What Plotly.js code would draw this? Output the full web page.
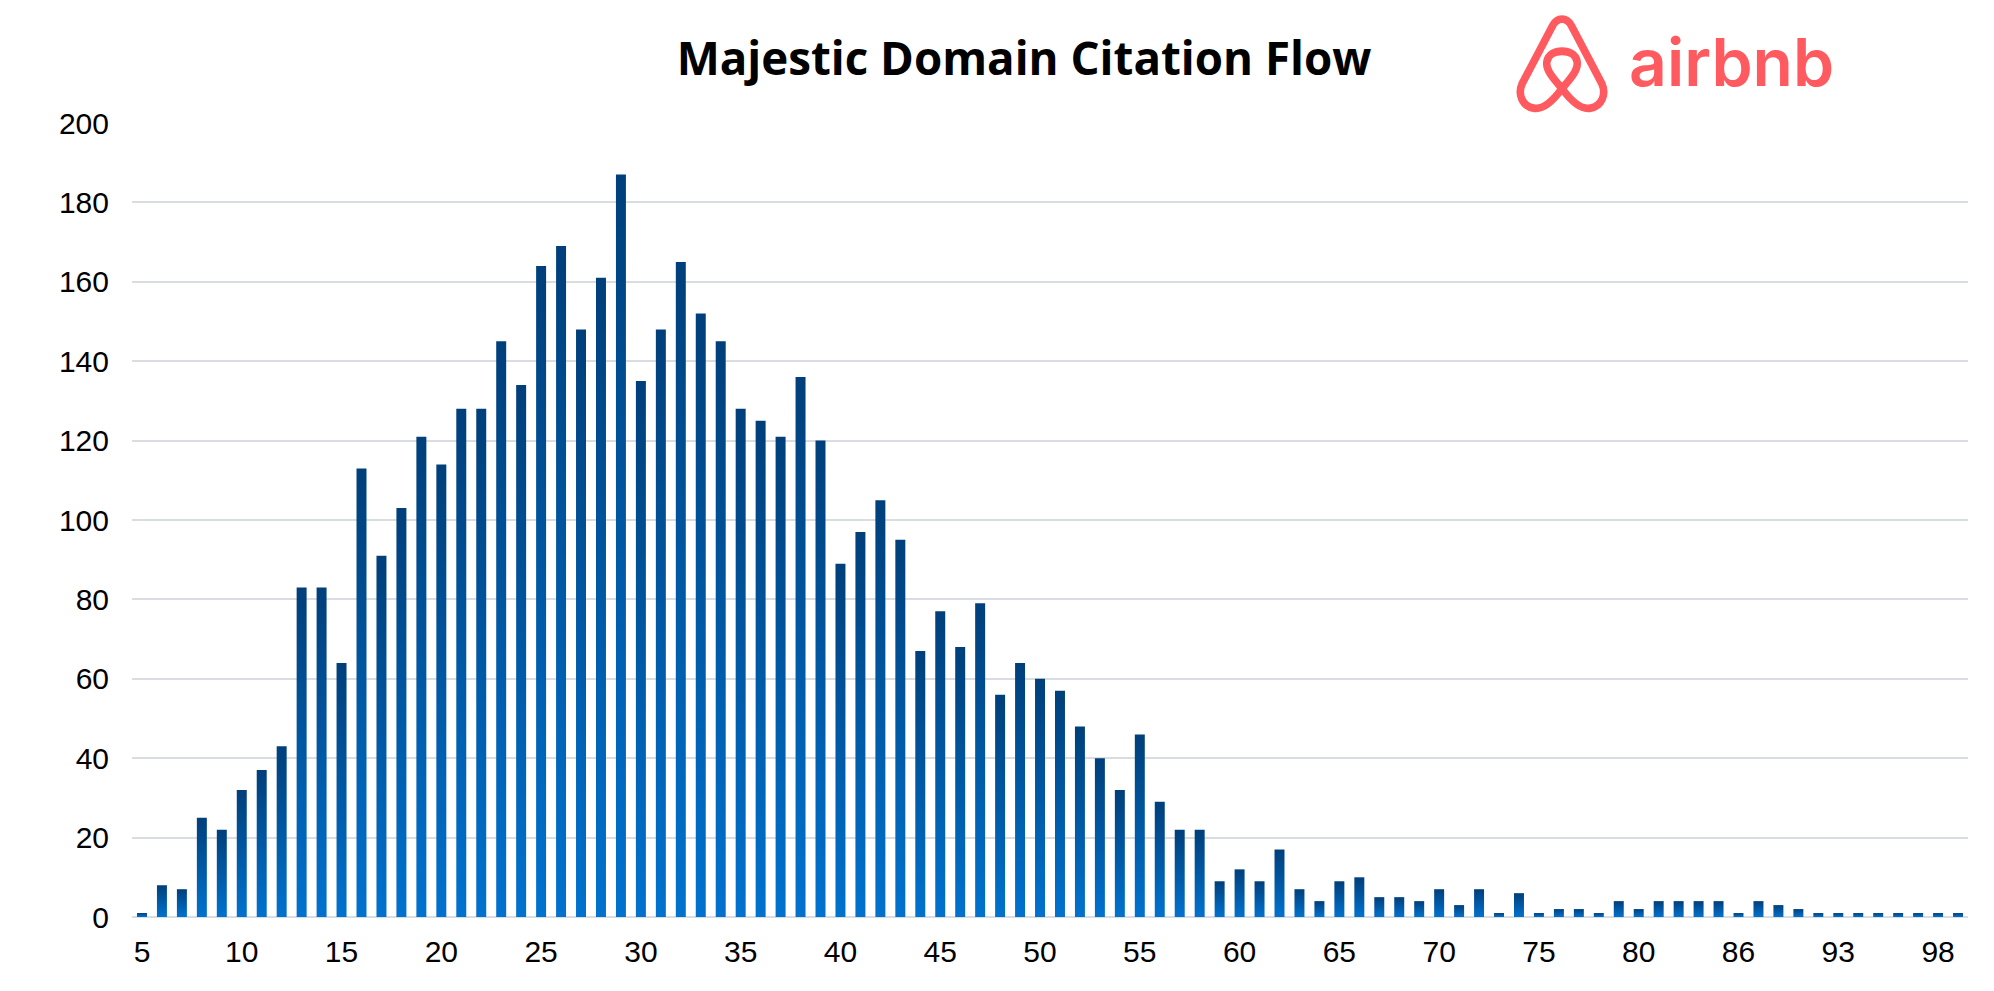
<!DOCTYPE html>
<html>
<head>
<meta charset="utf-8">
<script src="https://cdn.plot.ly/plotly-3.0.1.min.js"></script>
<style>
  html, body { margin: 0; padding: 0; background: #ffffff; }
  #chart { width: 1994px; height: 991px; }
</style>
</head>
<body>
<div id="chart"></div>
<script>
// ---- Data ----
const categories = [
  '5','6','7','8','9','10','11','12','13','14',
  '15','16','17','18','19','20','21','22','23','24',
  '25','26','27','28','29','30','31','32','33','34',
  '35','36','37','38','39','40','41','42','43','44',
  '45','46','47','48','49','50','51','52','53','54',
  '55','56','57','58','59','60','61','62','63','64',
  '65','66','67','68','69','70','71','72','73','74',
  '75','76','77','78','79','80','81','82','83','84',
  '86','87','88','89','90','93','94','95','96','97','98','99'
];
const domainCounts = [
  1, 8, 7, 25, 22, 32, 37, 43, 83, 83,
  64, 113, 91, 103, 121, 114, 128, 128, 145, 134,
  164, 169, 148, 161, 187, 135, 148, 165, 152, 145,
  128, 125, 121, 136, 120, 89, 97, 105, 95, 67,
  77, 68, 79, 56, 64, 60, 57, 48, 40, 32,
  46, 29, 22, 22, 9, 12, 9, 17, 7, 4,
  9, 10, 5, 5, 4, 7, 3, 7, 1, 6,
  1, 2, 2, 1, 4, 2, 4, 4, 4, 4,
  1, 4, 3, 2, 1, 1, 1, 1, 1, 1, 1, 1
];
const xTickLabels = ['5','10','15','20','25','30','35','40','45','50','55','60','65','70','75','80','86','93','98'];
const yTickValues = [0, 20, 40, 60, 80, 100, 120, 140, 160, 180, 200];
const chartTitle = 'Majestic Domain Citation Flow';
const brandName = 'airbnb';

// ---- Logo symbol (decorative) ----
const beloSvg = '<svg xmlns="http://www.w3.org/2000/svg" viewBox="1.5 2 97 100" preserveAspectRatio="none">' +
  '<path d="M50,77 C41,89 30,99 20,97 C8,95 3,83 8,72 L40,13 C45,4 55,4 60,13 L92,72 C97,83 92,95 80,97 C70,99 59,89 50,77 C40,66 33,58 34,50 C35,42 43,39 50,39 C57,39 65,42 66,50 C67,58 60,66 50,77 Z" ' +
  'fill="none" stroke="#FF5A5F" stroke-width="8" stroke-linejoin="round" stroke-linecap="round"/></svg>';
const beloUri = 'data:image/svg+xml;base64,' + btoa(beloSvg);

const trace = {
  type: 'bar',
  x: categories,
  y: domainCounts,
  marker: { color: '#0058a8', line: { width: 0 } },
  hoverinfo: 'x+y'
};

const W = 1994, H = 991;
const mL = 132, mR = 26, mT = 123, mB = 74;
const pw = W - mL - mR, ph = H - mT - mB;
const px2x = p => (p - mL) / pw;
const px2y = p => (H - mB - p) / ph;

const layout = {
  width: W,
  height: H,
  margin: { l: mL, r: mR, t: mT, b: mB, pad: 0 },
  paper_bgcolor: '#ffffff',
  plot_bgcolor: '#ffffff',
  showlegend: false,
  bargap: 0.5,
  font: { family: '"Liberation Sans", Arial, sans-serif', color: '#000000', size: 30 },
  title: {
    text: '<b>' + chartTitle + '</b>',
    font: { family: '"Open Sans", "Noto Sans", sans-serif', size: 45.7, color: '#000000' },
    x: 1024 / W,
    xanchor: 'center',
    xref: 'container',
    y: 1 - 59 / H,
    yanchor: 'middle',
    yref: 'container'
  },
  xaxis: {
    type: 'category',
    tickmode: 'array',
    tickvals: xTickLabels,
    ticktext: xTickLabels,
    showgrid: false,
    showline: false,
    zeroline: false,
    ticks: '',
    ticklabelstandoff: 14,
    tickfont: { size: 30, color: '#000000' },
    fixedrange: true
  },
  yaxis: {
    range: [0, 200],
    tickmode: 'array',
    tickvals: yTickValues,
    showgrid: true,
    gridcolor: '#d9dde2',
    gridwidth: 2,
    zeroline: true,
    zerolinecolor: '#d9dde2',
    zerolinewidth: 2,
    showline: false,
    ticks: '',
    ticklabelstandoff: 22,
    tickfont: { size: 30, color: '#000000' },
    fixedrange: true
  },
  images: [{
    source: beloUri,
    xref: 'paper', yref: 'paper',
    x: px2x(1516), y: px2y(15),
    sizex: 92 / pw, sizey: 98 / ph,
    xanchor: 'left', yanchor: 'top',
    sizing: 'stretch',
    layer: 'above'
  }],
  annotations: [{
    text: brandName,
    xref: 'paper', yref: 'paper',
    x: px2x(1627), y: px2y(62),
    xanchor: 'left', yanchor: 'middle',
    showarrow: false,
    font: { family: 'Inter, "Noto Sans", sans-serif', size: 66, weight: 600, color: '#FF5A5F' }
  }]
};

const gd = document.getElementById('chart');

function applyGradient() {
  const svg = gd.querySelector('svg.main-svg');
  if (!svg) return;
  let defs = svg.querySelector('defs');
  if (!defs) {
    defs = document.createElementNS('http://www.w3.org/2000/svg', 'defs');
    svg.insertBefore(defs, svg.firstChild);
  }
  if (!svg.querySelector('#barGrad')) {
    const ns = 'http://www.w3.org/2000/svg';
    const lg = document.createElementNS(ns, 'linearGradient');
    lg.setAttribute('id', 'barGrad');
    lg.setAttribute('x1', '0'); lg.setAttribute('y1', '0');
    lg.setAttribute('x2', '0'); lg.setAttribute('y2', '1');
    const s1 = document.createElementNS(ns, 'stop');
    s1.setAttribute('offset', '0'); s1.setAttribute('stop-color', '#003f7a');
    const s2 = document.createElementNS(ns, 'stop');
    s2.setAttribute('offset', '1'); s2.setAttribute('stop-color', '#0072cf');
    lg.appendChild(s1); lg.appendChild(s2);
    defs.appendChild(lg);
  }
  gd.querySelectorAll('.bars .point path').forEach(p => {
    p.style.fill = 'url(#barGrad)';
  });
}

Plotly.newPlot(gd, [trace], layout, { staticPlot: true, displayModeBar: false }).then(() => {
  applyGradient();
  gd.on && gd.on('plotly_afterplot', applyGradient);
});
</script>
</body>
</html>
